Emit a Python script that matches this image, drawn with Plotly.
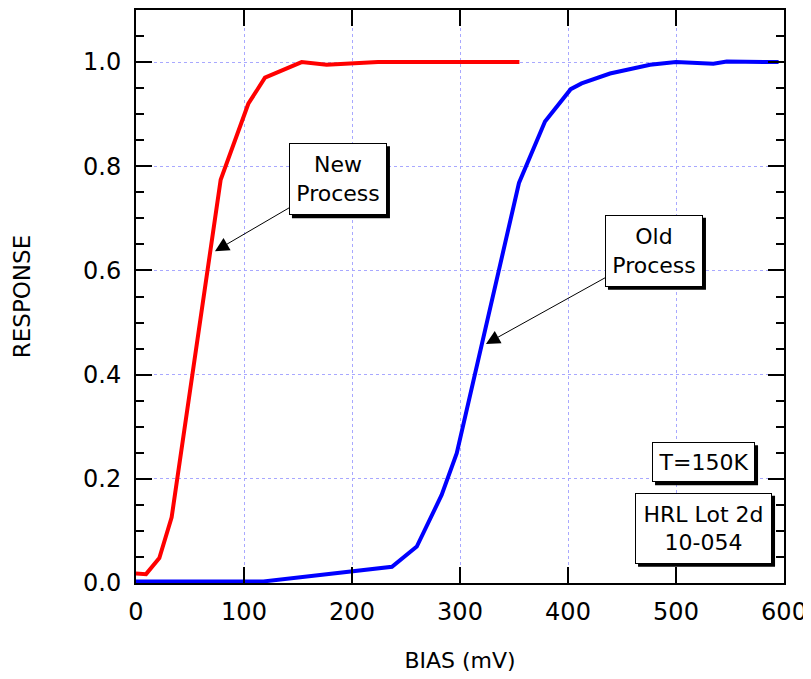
import plotly.graph_objects as go

# New Process (red)
new_bias = [0, 9.3, 21.6, 33, 78.4, 104, 119.4, 153.4, 176.5, 224, 355]
new_resp = [0.018, 0.017, 0.048, 0.126, 0.774, 0.92, 0.97, 1.0, 0.995, 1.0, 1.0]

# Old Process (blue)
old_bias = [0, 118, 237, 260, 283, 297, 354.6, 378.7, 402.5, 412.6, 438.9, 476, 500, 534.6, 547, 595]
old_resp = [0.003, 0.003, 0.031, 0.07, 0.169, 0.249, 0.768, 0.886, 0.948, 0.959, 0.978, 0.995, 1.0, 0.997, 1.001, 1.0]

x_ticks = [0, 100, 200, 300, 400, 500, 600]
y_ticks = [0.0, 0.2, 0.4, 0.6, 0.8, 1.0]

FONT = "DejaVu Sans"
fig = go.Figure()
fig.add_trace(go.Scatter(x=new_bias, y=new_resp, mode="lines",
                         line=dict(color="#ff0000", width=4), name="New Process"))
fig.add_trace(go.Scatter(x=old_bias, y=old_resp, mode="lines",
                         line=dict(color="#0000ff", width=4), name="Old Process"))

axis_common = dict(
    showline=True, linecolor="black", linewidth=2, mirror="allticks",
    ticks="inside", ticklen=16, tickwidth=2, tickcolor="black",
    showgrid=True, gridcolor="#a8a8ff", griddash="dot", gridwidth=1,
    zeroline=False, tickfont=dict(family=FONT, size=24, color="black"),
)

fig.update_xaxes(range=[0, 600], tickvals=x_ticks, ticklabelstandoff=6,
                 title=dict(text="BIAS (mV)", font=dict(family=FONT, size=22, color="black"), standoff=28),
                 **axis_common)
fig.update_yaxes(range=[0, 1.1], tickvals=y_ticks, tickformat=".1f", ticklabelstandoff=8,
                 minor=dict(dtick=0.05, tick0=0, ticks="inside", ticklen=8, tickwidth=2,
                            tickcolor="black", showgrid=False),
                 title=dict(text="RESPONSE", font=dict(family=FONT, size=23, color="black"), standoff=46),
                 **axis_common)

boxes = [
    # text, center x, center y, tip x, tip y, box width px, box height px
    ("New<br>Process", 187, 0.775, 73.1, 0.637, 98, 72),
    ("Old<br>Process", 479.6, 0.638, 324, 0.459, 98, 72),
    ("T=150K", 525.5, 0.232, None, None, 103, 40),
    ("HRL Lot 2d<br>10-054", 525.5, 0.105, None, None, 137, 71),
]
SH = 3
shapes = []
anns = []
for text, cx, cy, tx, ty, w, h in boxes:
    shapes.append(dict(type="rect", xref="x", yref="y", xsizemode="pixel", ysizemode="pixel",
                       xanchor=cx, yanchor=cy,
                       x0=-w / 2 + SH, x1=w / 2 + SH, y0=-h / 2 - SH, y1=h / 2 - SH,
                       fillcolor="black", line=dict(width=0), layer="above"))
    a = dict(text=text, font=dict(family=FONT, size=22, color="black"),
             bgcolor="white", bordercolor="black", borderwidth=1, borderpad=0,
             width=w - 2, height=h - 2, align="center", valign="middle")
    if tx is None:
        a.update(x=cx, y=cy, xref="x", yref="y", showarrow=False)
    else:
        a.update(x=tx, y=ty, xref="x", yref="y", ax=cx, ay=cy, axref="x", ayref="y",
                 showarrow=True, arrowhead=2, arrowsize=2.8, arrowwidth=1, arrowcolor="black")
    anns.append(a)

fig.update_layout(
    width=811, height=679,
    margin=dict(l=128, r=35, t=0, b=104),
    paper_bgcolor="white", plot_bgcolor="white",
    showlegend=False,
    annotations=anns, shapes=shapes,
    font=dict(family=FONT, size=22, color="black"),
)
fig.write_html("out.html")
